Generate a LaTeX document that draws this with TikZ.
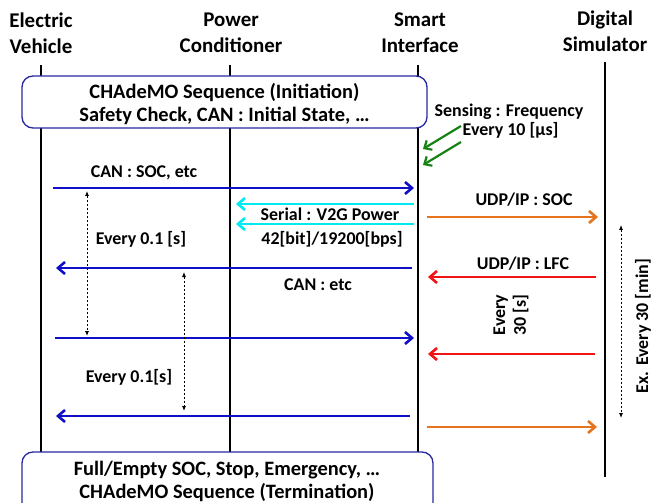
\documentclass[tikz,border=0pt]{standalone}
\usepackage{fontspec}
\setmainfont{Carlito}
\usetikzlibrary{arrows.meta}
\definecolor{myblue}{RGB}{15,15,200}
\definecolor{mycyan}{RGB}{0,235,240}
\definecolor{myorange}{RGB}{230,115,30}
\definecolor{myred}{RGB}{240,20,20}
\definecolor{mygreen}{RGB}{20,130,20}
\definecolor{boxblue}{RGB}{40,40,160}
\tikzset{
  head/.style={align=center,font=\fontsize{21}{26}\selectfont\bfseries,inner sep=0pt},
  lbl/.style={align=center,font=\fontsize{18}{25}\selectfont\bfseries,inner sep=0pt},
  boxtxt/.style={align=center,font=\fontsize{20.5}{23}\selectfont\bfseries,inner sep=0pt},
  life/.style={line width=2.2bp,black},
  msg/.style={line width=2.8bp,-{Straight Barb[length=7bp,width=12bp,line width=2.6bp]}},
  gmsg/.style={line width=2.2bp,mygreen,-{Straight Barb[length=6bp,width=11bp,line width=2.2bp]}},
  period/.style={line width=0.8bp,dashed,dash pattern=on 2.5bp off 1.5bp,{Latex[length=5bp,width=4bp]}-{Latex[length=5bp,width=4bp]}},
  phase/.style={draw=boxblue,line width=1.3bp,fill=white,rounded corners=11bp}
}
\begin{document}
\begin{tikzpicture}[x=1bp,y=-1bp]
\useasboundingbox (0,0) rectangle (666,503);
% headers
\node[head] (ev) at (41,33) {Electric\\Vehicle};
\node[head] (pc) at (231,33) {Power\\Conditioner};
\node[head] (si) at (420,33) {Smart\\Interface};
\node[head] (ds) at (605,31) {Digital\\Simulator};
% lifelines
\coordinate (evT) at (41,65); \coordinate (evB) at (41,455);
\coordinate (pcT) at (230,65); \coordinate (pcB) at (230,455);
\coordinate (siT) at (418,65); \coordinate (siB) at (418,455);
\coordinate (dsT) at (605,62); \coordinate (dsB) at (605,477);
\draw[life] (evT) -- (evB);
\draw[life] (pcT) -- (pcB);
\draw[life] (siT) -- (siB);
\draw[life] (dsT) -- (dsB);
% phase boxes
\draw[phase] (22,76) rectangle (427,128);
\node[boxtxt] (init) at (224.5,104) {CHAdeMO Sequence (Initiation)\\Safety Check, CAN : Initial State, \dots};
\draw[phase] (22,452) rectangle (433,520);
\node[boxtxt] (term) at (227,481) {Full/Empty SOC, Stop, Emergency, \dots\\CHAdeMO Sequence (Termination)};
% sensing
\node[lbl,align=left,font=\fontsize{18}{19}\selectfont\bfseries] (sens) at (509,121.5) {Sensing : Frequency\\\hspace*{28bp}Every 10 [µs]};
\coordinate (g1a) at (461,126); \coordinate (g1b) at (423,149);
\coordinate (g2a) at (461,142); \coordinate (g2b) at (423,165);
\draw[gmsg] (g1a) -- (g1b);
\draw[gmsg] (g2a) -- (g2b);
% message end points
\coordinate (m1a) at (53,188); \coordinate (m1b) at (414,188);
\coordinate (c1a) at (414,204); \coordinate (c1b) at (236,204);
\coordinate (c2a) at (414,224); \coordinate (c2b) at (236,224);
\coordinate (o1a) at (427,217); \coordinate (o1b) at (598,217);
\coordinate (m2a) at (412,268); \coordinate (m2b) at (56,268);
\coordinate (r1a) at (596,277); \coordinate (r1b) at (428,277);
\coordinate (m3a) at (55,338); \coordinate (m3b) at (414,338);
\coordinate (r2a) at (595,354); \coordinate (r2b) at (428,354);
\coordinate (m4a) at (410,416); \coordinate (m4b) at (56,416);
\coordinate (o2a) at (427,427); \coordinate (o2b) at (597,427);
\draw[msg,myblue] (m1a) -- (m1b);
\draw[msg,mycyan] (c1a) -- (c1b);
\draw[msg,mycyan] (c2a) -- (c2b);
\draw[msg,myorange] (o1a) -- (o1b);
\draw[msg,myblue] (m2a) -- (m2b);
\draw[msg,myred] (r1a) -- (r1b);
\draw[msg,myblue] (m3a) -- (m3b);
\draw[msg,myred] (r2a) -- (r2b);
\draw[msg,myblue] (m4a) -- (m4b);
\draw[msg,myorange] (o2a) -- (o2b);
% labels
\node[lbl] (l1) at (144,173) {CAN : SOC, etc};
\node[lbl] (l2) at (330,214) {Serial : V2G Power};
\node[lbl] (l3) at (332,239) {42[bit]/19200[bps]};
\node[lbl] (l4) at (524,200) {UDP/IP : SOC};
\node[lbl] (l5) at (523,264) {UDP/IP : LFC};
\node[lbl] (l6) at (318,285) {CAN : etc};
\node[lbl] (l7) at (141,239) {Every 0.1 [s]};
\node[lbl] (l8) at (129,377) {Every 0.1[s]};
\node[lbl,rotate=90,font=\fontsize{18}{21}\selectfont\bfseries] (l9) at (511,315) {Every\\30 [s]};
\node[lbl,rotate=90] (l10) at (643,326) {Ex. Every 30 [min]};
% periods
\coordinate (p1a) at (87,191); \coordinate (p1b) at (87,336);
\coordinate (p2a) at (184,272); \coordinate (p2b) at (184,411);
\coordinate (p3a) at (621,225); \coordinate (p3b) at (621,418);
\draw[period] (p1a) -- (p1b);
\draw[period] (p2a) -- (p2b);
\draw[period] (p3a) -- (p3b);
\end{tikzpicture}
\end{document}
